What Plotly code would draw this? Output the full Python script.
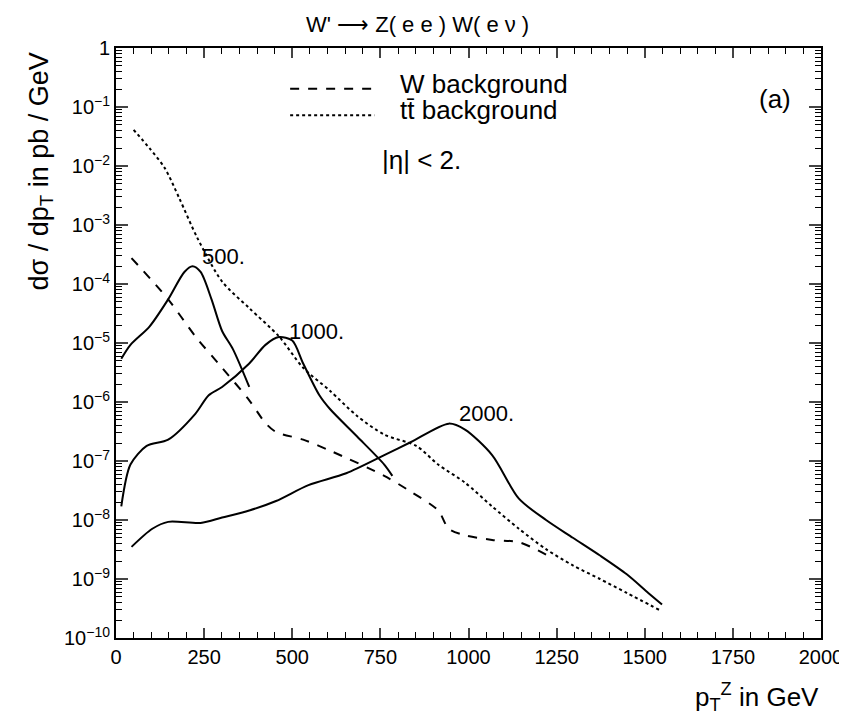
import plotly.graph_objects as go

# ---- data ----
tt_x = [50, 95, 138, 180, 231, 301, 378, 462, 531, 607, 684, 761, 852, 914, 990,
        1067, 1143, 1220, 1296, 1373, 1449, 1541]
tt_y = [4.1e-2, 2.0e-2, 9.3e-3, 2.8e-3, 6.0e-4, 1.1e-4, 3.9e-5, 1.3e-5, 3.8e-6, 1.55e-6,
        5.8e-7, 2.8e-7, 1.8e-7, 8.7e-8, 4.3e-8, 1.7e-8, 7.1e-9, 3.2e-9, 1.7e-9, 1.0e-9,
        5.8e-10, 3.0e-10]

w_x = [44, 148, 225, 301, 378, 424, 454, 531, 607, 761, 837, 914, 944, 990, 1067, 1143, 1220]
w_y = [2.75e-4, 5.5e-5, 1.3e-5, 3.8e-6, 1.07e-6, 4.4e-7, 3.1e-7, 2.3e-7, 1.5e-7, 5.6e-8,
       3.0e-8, 1.45e-8, 7.1e-9, 5.5e-9, 4.6e-9, 4.2e-9, 2.6e-9]

s500_x = [15, 41, 95, 148, 194, 217, 240, 271, 301, 332, 378]
s500_y = [5.4e-6, 9.3e-6, 1.9e-5, 5.5e-5, 1.6e-4, 2.0e-4, 1.6e-4, 5.5e-5, 1.6e-5, 7.8e-6, 1.8e-6]

s1000_x = [15, 41, 87, 148, 225, 263, 301, 378, 424, 462, 500, 531, 577, 607, 684, 761, 784]
s1000_y = [1.7e-8, 8.7e-8, 1.8e-7, 2.3e-7, 6.3e-7, 1.3e-6, 1.8e-6, 4.5e-6, 9.3e-6, 1.26e-5,
           1.1e-5, 4.5e-6, 1.3e-6, 7.6e-7, 2.6e-7, 8.7e-8, 5.6e-8]

s2000_x = [44, 103, 148, 240, 301, 378, 454, 546, 653, 761, 837, 944, 990, 1067, 1143,
           1220, 1296, 1373, 1449, 1510, 1549]
s2000_y = [3.5e-9, 7.1e-9, 9.3e-9, 8.9e-9, 1.1e-8, 1.45e-8, 2.1e-8, 3.9e-8, 6.2e-8, 1.26e-7,
           2.1e-7, 4.3e-7, 3.4e-7, 1.26e-7, 2.3e-8, 1.0e-8, 5.0e-9, 2.5e-9, 1.2e-9, 5.8e-10,
           3.7e-10]

x_tickvals = [0, 250, 500, 750, 1000, 1250, 1500, 1750, 2000]
y_tickvals = [1e-10, 1e-9, 1e-8, 1e-7, 1e-6, 1e-5, 1e-4, 1e-3, 1e-2, 1e-1, 1]
y_ticktext = ["10<sup>−10</sup>", "10<sup>−9</sup>", "10<sup>−8</sup>", "10<sup>−7</sup>",
              "10<sup>−6</sup>", "10<sup>−5</sup>", "10<sup>−4</sup>", "10<sup>−3</sup>",
              "10<sup>−2</sup>", "10<sup>−1</sup>", "1"]

FONT = "Liberation Sans"
LW = 2

fig = go.Figure()

def add(x, y, dash):
    fig.add_trace(go.Scatter(x=x, y=y, mode="lines",
                             line=dict(color="black", width=LW, dash=dash,
                                       shape="spline", smoothing=0.8),
                             showlegend=False, hoverinfo="skip"))

add(tt_x, tt_y, "dot")
add(w_x, w_y, "dash")
add(s500_x, s500_y, "solid")
add(s1000_x, s1000_y, "solid")
add(s2000_x, s2000_y, "solid")

# legend samples (drawn in axis coordinates)
fig.add_trace(go.Scatter(x=[494, 733], y=[10**-0.69, 10**-0.69], mode="lines",
                         line=dict(color="black", width=LW, dash="dash"),
                         showlegend=False, hoverinfo="skip"))
fig.add_trace(go.Scatter(x=[494, 733], y=[10**-1.14, 10**-1.14], mode="lines",
                         line=dict(color="black", width=LW, dash="dot"),
                         showlegend=False, hoverinfo="skip"))

ann = []
def txt(x, y, s, size, xanchor="left", xref="x", yref="y", angle=0, yanchor="middle"):
    ann.append(dict(x=x, y=y, text=s, xref=xref, yref=yref, showarrow=False,
                    xanchor=xanchor, yanchor=yanchor, textangle=angle,
                    font=dict(family=FONT, size=size, color="black")))

txt(800, -0.61, "W background", 26)
txt(800, -1.05, "tt̄ background", 26)
txt(1870, -0.86, "(a)", 26, xanchor="center")
txt(750, -1.90, "|η| < 2.", 26)
txt(237, -3.53, "500.", 22)
txt(485, -4.80, "1000.", 22)
txt(966, -6.19, "2000.", 22)

txt(0.427, 1.039, "W' ⟶ Z( e e ) W( e ν )", 22, xanchor="center", xref="paper", yref="paper")
txt(-0.107, 0.79, "dσ / dp<sub>T</sub> in pb / GeV", 27, xanchor="center",
    xref="paper", yref="paper", angle=-90)
txt(1.0, -0.10, "p<sub>T</sub><sup>Z</sup> in GeV", 26, xanchor="right",
    xref="paper", yref="paper")

fig.update_layout(
    width=847, height=720,
    margin=dict(l=108, r=30, t=40, b=90),
    paper_bgcolor="white", plot_bgcolor="white",
    font=dict(family=FONT, color="black"),
    annotations=ann,
    xaxis=dict(range=[0, 2000], tickvals=x_tickvals, ticks="inside", ticklen=10,
               tickwidth=1.5, showline=True, linecolor="black", linewidth=2,
               mirror="allticks", showgrid=False, zeroline=False,
               tickfont=dict(size=20, family=FONT),
               minor=dict(ticks="inside", ticklen=6, tickwidth=1.3, dtick=50,
                          tickcolor="black", showgrid=False)),
    yaxis=dict(type="log", range=[-10, 0], tickvals=y_tickvals, ticktext=y_ticktext,
               ticks="inside", ticklen=12, tickwidth=1.5, showline=True, linecolor="black",
               linewidth=2, mirror="allticks", showgrid=False, zeroline=False,
               tickfont=dict(size=20, family=FONT),
               minor=dict(ticks="inside", ticklen=6, tickwidth=1.2, dtick="D1",
                          tickcolor="black", showgrid=False)),
)

fig.write_html("out.html")
